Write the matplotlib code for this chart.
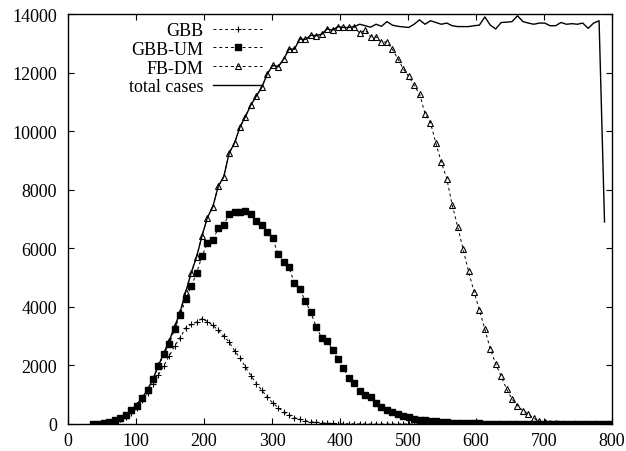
import numpy as np
import matplotlib
matplotlib.use("Agg")
import matplotlib.pyplot as plt

plt.rcParams['font.family'] = ['Liberation Serif', 'DejaVu Serif']

x = np.arange(37, 798, 8)

gbb = [0, 0, 10, 40, 100, 170, 250, 390, 560, 830,
       1060, 1350, 1680, 1990, 2330, 2670, 2950, 3280, 3400, 3480,
       3600, 3500, 3370, 3200, 3000, 2800, 2500, 2250, 1950, 1650,
       1380, 1150, 930, 720, 560, 410, 300, 220, 160, 110,
       80, 60, 40, 30, 20, 15, 10, 8, 5, 4,
       3, 2, 2, 1, 1, 0, 0, 0, 0, 0,
       0, 0, 0, 0, 0, 0, 0, 0, 0, 0,
       0, 0, 0, 0, 0, 0, 0, 0, 0, 0,
       0, 0, 0, 0, 0, 0, 0, 0, 0, 0,
       0, 0, 0, 0, 0, 0]

gbb_um = [0, 0, 20, 60, 150, 210, 300, 480, 625, 890,
          1150, 1520, 1980, 2380, 2740, 3250, 3710, 4260, 4700, 5150,
          5720, 6180, 6290, 6680, 6800, 7170, 7225, 7225, 7260, 7170,
          6940, 6795, 6545, 6340, 5800, 5520, 5350, 4800, 4600, 4200,
          3810, 3320, 2950, 2850, 2540, 2210, 1910, 1580, 1390, 1140,
          1000, 930, 730, 580, 485, 425, 330, 270, 245, 180,
          135, 125, 110, 90, 85, 60, 50, 40, 35, 30,
          25, 20, 15, 10, 10, 5, 5, 3, 2, 1,
          0, 0, 0, 0, 0, 0, 0, 0, 0, 0,
          0, 0, 0, 0, 0, 0]

fb_dm = [0, 0, 20, 60, 140, 210, 310, 480, 640, 900,
         1170, 1540, 2000, 2420, 2850, 3330, 3830, 4500, 5150, 5700,
         6420, 7050, 7420, 8120, 8440, 9250, 9600, 10150, 10500, 10900,
         11200, 11500, 11950, 12250, 12200, 12450, 12800, 12800, 13150, 13130,
         13270, 13260, 13310, 13490, 13450, 13570, 13540, 13540, 13570, 13340,
         13460, 13220, 13220, 13030, 13050, 12790, 12480, 12130, 11870, 11560,
         11270, 10600, 10290, 9590, 8935, 8380, 7480, 6740, 5970, 5210,
         4520, 3890, 3240, 2560, 2050, 1625, 1195, 850, 625, 455,
         340, 190, 100, 60, 40, 25, 15, 10, 8, 5,
         3, 2, 1, 0, 0, 0]

total = fb_dm[:49] + [
    13650, 13600, 13550, 13650, 13580, 13740, 13620, 13580, 13560, 13540,
    13650, 13800, 13650, 13770, 13710, 13650, 13690, 13600, 13570, 13570,
    13570, 13600, 13620, 13900, 13620, 13490, 13710, 13720, 13740, 13940,
    13740, 13690, 13650, 13690, 13690, 13600, 13600, 13710, 13650, 13670,
    13650, 13690, 13510, 13690, 13770, 6900]

labels = ['GBB', 'GBB-UM', 'FB-DM', 'total cases']

fig = plt.figure(figsize=(6.26, 4.52), dpi=100)
ax = fig.add_axes([68/626, 1-425/452, (612-68)/626, (425-15)/452])

dash = (0, (3, 3))
ax.plot(x, gbb, color='black', lw=0.7, ls=dash, marker='+', ms=5, mew=0.8,
        label=labels[0])
ax.plot(x, gbb_um, color='black', lw=0.7, ls=dash, marker='s', ms=4.3,
        label=labels[1])
ax.plot(x, fb_dm, color='black', lw=0.7, ls=dash, marker='^', ms=5,
        mfc='none', mew=0.8, label=labels[2])
ax.plot(x[:len(total)], total, color='black', lw=1.0, label=labels[3])

ax.set_xlim(0, 800)
ax.set_ylim(0, 14000)
ax.set_xticks(np.arange(0, 801, 100))
ax.set_yticks(np.arange(0, 14001, 2000))
ax.tick_params(direction='in', length=4, width=0.8, top=True, right=True,
               labelsize=13)
ax.tick_params(axis='x', pad=6)
ax.tick_params(axis='y', pad=8)
for s in ax.spines.values():
    s.set_linewidth(1.0)

leg = ax.legend(loc='upper right', bbox_to_anchor=(194/544, 1 - 8/410),
                frameon=False, markerfirst=False, fontsize=13,
                handlelength=2.7, handletextpad=0.55, labelspacing=0.1,
                borderaxespad=0, borderpad=0)

fig.savefig('out.png', dpi=100)
